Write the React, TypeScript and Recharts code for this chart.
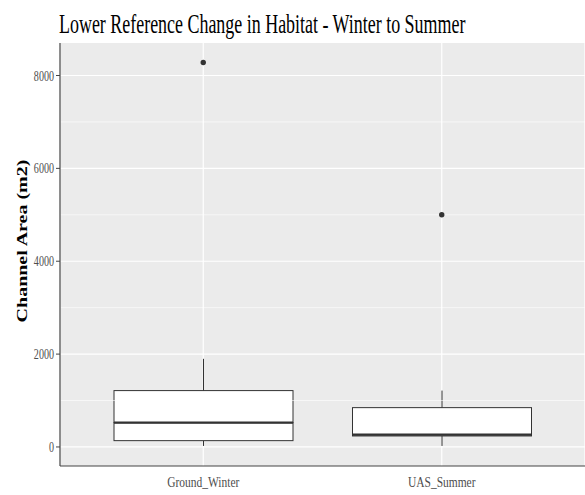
import React from "react";
import {
  ComposedChart,
  Bar,
  Scatter,
  XAxis,
  YAxis,
  CartesianGrid,
  ReferenceLine,
} from "recharts";

const categories = ["Ground_Winter", "UAS_Summer"];
const whiskerLow = [22, 22];
const lowerQuartile = [136, 237];
const medians = [524, 265];
const upperQuartile = [1214, 847];
const whiskerHigh = [1898, 1214];
const outliers = [8280, 5000];

const yTicks = [0, 2000, 4000, 6000, 8000];
const minorGrid = [1000, 3000, 5000, 7000];

const SERIF = '"Liberation Serif", "Times New Roman", serif';
const INK = "#333333";

// stacked segments: invisible base, lower whisker, two box halves, upper whisker
const data = categories.map((name, i) => ({
  name,
  base: whiskerLow[i],
  lowWhisker: lowerQuartile[i] - whiskerLow[i],
  lowBox: medians[i] - lowerQuartile[i],
  highBox: upperQuartile[i] - medians[i],
  highWhisker: whiskerHigh[i] - upperQuartile[i],
  outlier: outliers[i],
}));

const Whisker = (p: any) => (
  <line
    x1={p.x + p.width / 2}
    x2={p.x + p.width / 2}
    y1={p.y}
    y2={p.y + p.height}
    stroke={INK}
    strokeWidth={1}
  />
);

const LowBox = (p: any) => (
  <rect x={p.x} y={p.y} width={p.width} height={p.height} fill="#fff" stroke={INK} strokeWidth={1} />
);

// upper half of the box, with the median drawn thick along its bottom edge
const HighBox = (p: any) => (
  <g>
    <rect x={p.x} y={p.y} width={p.width} height={p.height} fill="#fff" stroke={INK} strokeWidth={1} />
    <line x1={p.x} x2={p.x + p.width} y1={p.y + p.height} y2={p.y + p.height} stroke={INK} strokeWidth={2.4} />
  </g>
);

const Outlier = (p: any) => <circle cx={p.cx} cy={p.cy} r={2.7} fill={INK} />;

const YTick = ({ x, y, payload }: any) => (
  <g transform={`translate(${x},${y})`}>
    <text transform="scale(0.72,1)" textAnchor="end" dy={5} fontSize={14} fontFamily={SERIF} fill="#4D4D4D">
      {payload.value}
    </text>
  </g>
);

const XTick = ({ x, y, payload }: any) => (
  <g transform={`translate(${x},${y})`}>
    <text transform="scale(0.82,1)" textAnchor="middle" y={21} fontSize={14} fontFamily={SERIF} fill="#4D4D4D">
      {payload.value}
    </text>
  </g>
);

export default function App() {
  return (
    <div style={{ position: "absolute", left: 0, top: 0, width: 585, height: 495, background: "#fff" }}>
      <ComposedChart
        width={585}
        height={495}
        data={data}
        margin={{ top: 43, right: 0, left: 0, bottom: 0 }}
      >
        <CartesianGrid fill="#EBEBEB" stroke="#fff" strokeWidth={1.2} horizontal={false} />
        {minorGrid.map((v) => (
          <ReferenceLine key={`m${v}`} y={v} stroke="#fff" strokeWidth={0.6} />
        ))}
        {yTicks.map((v) => (
          <ReferenceLine key={`M${v}`} y={v} stroke="#fff" strokeWidth={1.2} />
        ))}
        <XAxis
          dataKey="name"
          padding={{ left: 24, right: 24 }}
          height={29}
          axisLine={{ stroke: "#444", strokeWidth: 1.2 }}
          tickLine={false}
          tickSize={0}
          tickMargin={0}
          tick={<XTick />}
        />
        <YAxis
          width={60}
          domain={[-410, 8700]}
          ticks={yTicks}
          allowDataOverflow
          axisLine={{ stroke: "#444", strokeWidth: 1.2 }}
          tickLine={{ stroke: "#444" }}
          tickSize={4}
          tickMargin={2}
          tick={<YTick />}
        />
        <Bar dataKey="base" stackId="box" barSize={179} fill="transparent" isAnimationActive={false} />
        <Bar dataKey="lowWhisker" stackId="box" barSize={179} shape={<Whisker />} isAnimationActive={false} />
        <Bar dataKey="lowBox" stackId="box" barSize={179} shape={<LowBox />} isAnimationActive={false} />
        <Bar dataKey="highBox" stackId="box" barSize={179} shape={<HighBox />} isAnimationActive={false} />
        <Bar dataKey="highWhisker" stackId="box" barSize={179} shape={<Whisker />} isAnimationActive={false} />
        <Scatter dataKey="outlier" shape={<Outlier />} isAnimationActive={false} />
      </ComposedChart>

      <svg
        width={585}
        height={495}
        style={{ position: "absolute", left: 0, top: 0, pointerEvents: "none" }}
      >
        <text transform="translate(59 33) scale(0.665 1)" fontSize={27} fontFamily={SERIF} fill="#000">
          Lower Reference Change in Habitat - Winter to Summer
        </text>
        <text
          transform="translate(27 241) scale(0.74 1) rotate(-90)"
          textAnchor="middle"
          fontSize={20}
          fontWeight="bold"
          fontFamily={SERIF}
          fill="#000"
        >
          Channel Area (m2)
        </text>
      </svg>
    </div>
  );
}
